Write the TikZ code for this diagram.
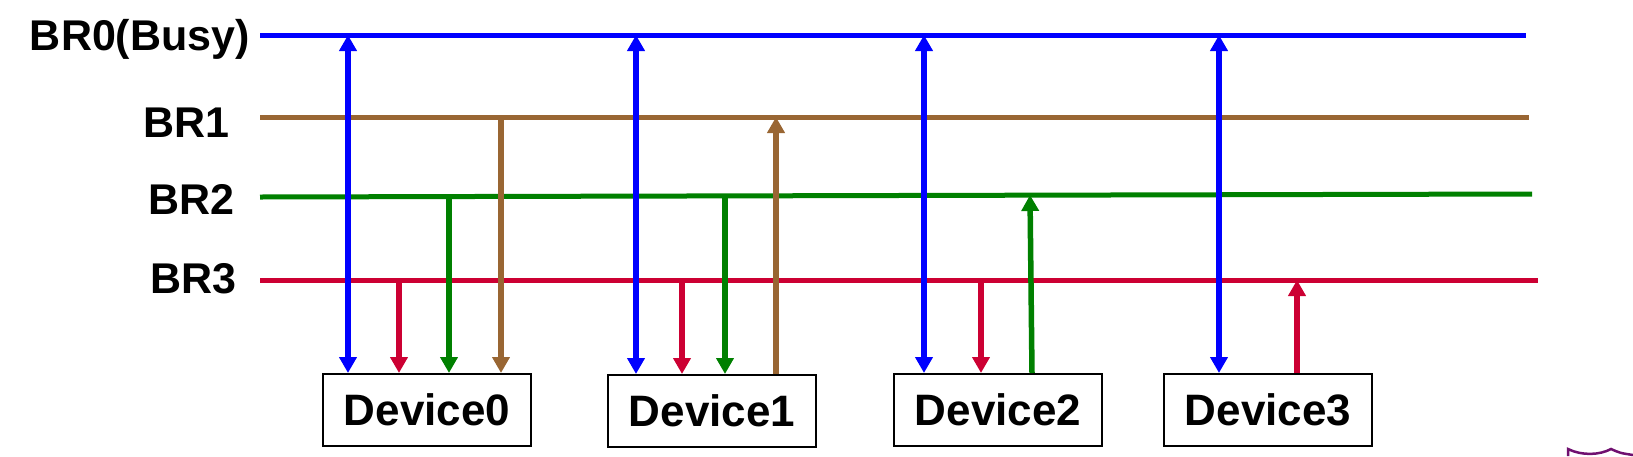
\documentclass[tikz,border=0pt]{standalone}
\usepackage{fontspec}
\setmainfont{Liberation Sans}
\usetikzlibrary{arrows.meta}
\definecolor{busblue}{RGB}{0,0,255}
\definecolor{busbrown}{RGB}{153,102,51}
\definecolor{busgreen}{RGB}{0,128,0}
\definecolor{busred}{RGB}{204,0,51}
\definecolor{cornerpurple}{RGB}{112,16,112}

\begin{document}
\begin{tikzpicture}[x=1pt, y=-1pt,
    bus/.style={line width=5pt},
    tap/.style={line width=5.5pt, -{Triangle[width=17pt,length=16pt]}},
    duplex/.style={line width=5.5pt, {Triangle[width=17pt,length=16pt]}-{Triangle[width=17pt,length=16pt]}},
    device/.style={draw, line width=2pt, minimum width=208pt, minimum height=72pt, inner sep=0pt, font=\fontsize{44}{50}\selectfont\bfseries},
    busname/.style={anchor=base east, inner sep=0pt, font=\fontsize{43}{48}\selectfont\bfseries}]
    \useasboundingbox (0,0) rectangle (1633,456);
    % bus lines
    \coordinate (br0w) at (260,35);  \coordinate (br0e) at (1526,35);
    \coordinate (br1w) at (260,117); \coordinate (br1e) at (1529,117);
    \coordinate (br2w) at (260,197); \coordinate (br2e) at (1532,194);
    \coordinate (br3w) at (260,280); \coordinate (br3e) at (1538,280);
    \draw[bus, busblue] (br0w) -- (br0e);
    \draw[bus, busbrown] (br1w) -- (br1e);
    \draw[bus, busgreen] (br2w) -- (br2e);
    \draw[bus, busred] (br3w) -- (br3e);
    % bus names
    \node[busname] (n0) at (250,50) {BR0(Busy)};
    \node[busname] (n1) at (230,137) {BR1};
    \node[busname] (n2) at (235,214) {BR2};
    \node[busname] (n3) at (237,293) {BR3};
    % devices
    \node[device] (d0) at (427,410) {Device0};
    \node[device] (d1) at (712,411) {Device1};
    \node[device] (d2) at (998,410) {Device2};
    \node[device] (d3) at (1268,410) {Device3};
    % Device0 taps
    \draw[duplex, busblue] (348,0 |- br0w) -- (348,0 |- d0.north);
    \draw[tap, busred] (399,0 |- br3w) -- (399,0 |- d0.north);
    \draw[tap, busgreen] (449,0 |- br2w) -- (449,0 |- d0.north);
    \draw[tap, busbrown] (501,0 |- br1w) -- (501,0 |- d0.north);
    % Device1 taps
    \draw[duplex, busblue] (636,0 |- br0w) -- (636,0 |- d1.north);
    \draw[tap, busred] (682,0 |- br3w) -- (682,0 |- d1.north);
    \draw[tap, busgreen] (725,0 |- br2w) -- (725,0 |- d1.north);
    \draw[tap, busbrown] (776,0 |- d1.north) -- (776,0 |- br1w);
    % Device2 taps
    \draw[duplex, busblue] (924,0 |- br0w) -- (924,0 |- d2.north);
    \draw[tap, busred] (981,0 |- br3w) -- (981,0 |- d2.north);
    \draw[tap, busgreen] (1032,0 |- d2.north) -- (1030,195);
    % Device3 taps
    \draw[duplex, busblue] (1219,0 |- br0w) -- (1219,0 |- d3.north);
    \draw[tap, busred] (1297,0 |- d3.north) -- (1297,0 |- br3w);
    % corner mark
    \draw[cornerpurple, line width=2.5pt] (1568,456) -- (1568,449)
        .. controls (1582,456) and (1600,455) .. (1611,449)
        .. controls (1620,453) .. (1633,455);
\end{tikzpicture}
\end{document}
